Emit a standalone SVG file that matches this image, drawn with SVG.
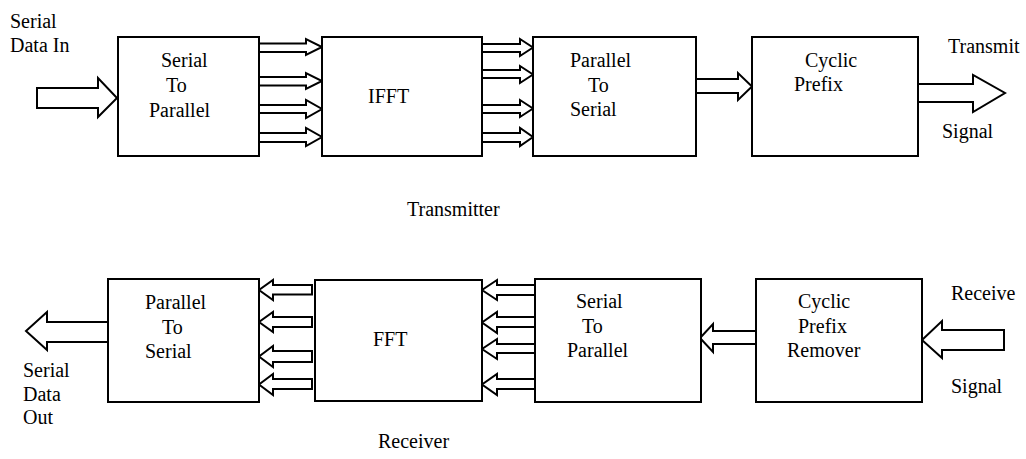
<svg xmlns="http://www.w3.org/2000/svg" width="1026" height="459" viewBox="0 0 1026 459">
<style>
.box{fill:#fff;stroke:#000;stroke-width:2}
.arr{fill:#fff;stroke:#000;stroke-width:2;stroke-linejoin:miter}
.t{font-family:'Liberation Serif','DejaVu Serif','Times New Roman',serif;font-size:20px;fill:#000}
</style>
<rect width="1026" height="459" fill="#fff"/>
<g id="connectors">
<polygon class="arr" points="37,88 98,88 98,78 117,98 98,117 98,108 37,108"/>
<polygon class="arr" points="259,43.5 306,43.5 306,39 322,47 306,55 306,52 259,52"/>
<polygon class="arr" points="259,77 306,77 306,73 322,81 306,89 306,85.5 259,85.5"/>
<polygon class="arr" points="259,105 306,105 306,100 322,109 306,118 306,113 259,113"/>
<polygon class="arr" points="259,133 306,133 306,128 322,137 306,146 306,142 259,142"/>
<polygon class="arr" points="482,44 520,44 520,39 533,47.5 520,56 520,52 482,52"/>
<polygon class="arr" points="482,70 520,70 520,66 533,74.5 520,83 520,78 482,78"/>
<polygon class="arr" points="482,105 520,105 520,100 533,108.5 520,117 520,113 482,113"/>
<polygon class="arr" points="482,133 520,133 520,128 533,137 520,146 520,142 482,142"/>
<polygon class="arr" points="696,79 738,79 738,73 752,86.5 738,100 738,93 696,93"/>
<polygon class="arr" points="918,84 973,84 973,75 1005,93 973,112 973,102 918,102"/>
<polygon class="arr" points="108,322 47,322 47,312 26,331 47,350 47,342 108,342"/>
<polygon class="arr" points="312,285 273,285 273,280 259,290 273,300 273,294.5 312,294.5"/>
<polygon class="arr" points="312,317 273,317 273,312 259,322 273,332 273,327 312,327"/>
<polygon class="arr" points="312,351 273,351 273,346 259,356.5 273,367 273,362 312,362"/>
<polygon class="arr" points="312,379 273,379 273,374 259,384.5 273,395 273,389 312,389"/>
<polygon class="arr" points="535,285 497,285 497,280 482,290 497,300 497,295 535,295"/>
<polygon class="arr" points="535,317 497,317 497,312 482,322.5 497,333 497,327 535,327"/>
<polygon class="arr" points="535,344 497,344 497,339 482,349 497,359 497,353 535,353"/>
<polygon class="arr" points="535,379 497,379 497,374 482,384.5 497,395 497,389 535,389"/>
<polygon class="arr" points="756,331 713,331 713,324 700,338 713,352 713,344 756,344"/>
<polygon class="arr" points="1004,330 942,330 942,321 922,340 942,358 942,350 1004,350"/>
</g>
<g font-family="Liberation Serif, DejaVu Serif, serif" font-size="20">
<g id="tx-s2p"><rect class="box" x="118" y="37" width="141" height="119"/>
<text class="t" x="161" y="67">Serial</text><text class="t" x="166" y="92">To</text><text class="t" x="149" y="117">Parallel</text></g>
<g id="tx-ifft"><rect class="box" x="322" y="37" width="160" height="119"/>
<text class="t" x="368" y="103">IFFT</text></g>
<g id="tx-p2s"><rect class="box" x="533" y="37" width="163" height="119"/>
<text class="t" x="570" y="67">Parallel</text><text class="t" x="588" y="92">To</text><text class="t" x="570" y="116">Serial</text></g>
<g id="tx-cp"><rect class="box" x="752" y="37" width="166" height="119"/>
<text class="t" x="805" y="67">Cyclic</text><text class="t" x="794" y="91">Prefix</text></g>
<g id="rx-p2s"><rect class="box" x="108" y="279" width="151" height="123"/>
<text class="t" x="145" y="309">Parallel</text><text class="t" x="162" y="334">To</text><text class="t" x="145" y="358">Serial</text></g>
<g id="rx-fft"><rect class="box" x="315" y="280" width="167" height="121"/>
<text class="t" x="373" y="346">FFT</text></g>
<g id="rx-s2p"><rect class="box" x="535" y="279" width="166" height="123"/>
<text class="t" x="576" y="308">Serial</text><text class="t" x="582" y="333">To</text><text class="t" x="567" y="357">Parallel</text></g>
<g id="rx-cpr"><rect class="box" x="756" y="279" width="166" height="123"/>
<text class="t" x="798" y="308">Cyclic</text><text class="t" x="798" y="333">Prefix</text><text class="t" x="787" y="357">Remover</text></g>
<g id="labels">
<text class="t" x="10" y="28">Serial</text><text class="t" x="10" y="52">Data In</text>
<text class="t" x="948" y="53">Transmit</text><text class="t" x="942" y="138">Signal</text>
<text class="t" x="407" y="216">Transmitter</text>
<text class="t" x="23" y="377">Serial</text><text class="t" x="23" y="401">Data</text><text class="t" x="23" y="424">Out</text>
<text class="t" x="951" y="300">Receive</text><text class="t" x="951" y="393">Signal</text>
<text class="t" x="378" y="448">Receiver</text>
</g>
</g>
</svg>
